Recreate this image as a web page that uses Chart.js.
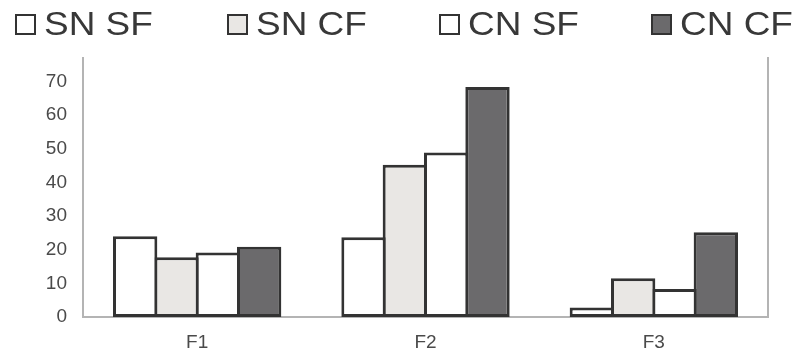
<!DOCTYPE html>
<html>
<head>
<meta charset="utf-8">
<script src="https://cdn.jsdelivr.net/npm/chart.js@4"></script>
<style>
    html, body { margin: 0; padding: 0; background: #fff; }
    #quadro { position: relative; width: 804px; height: 362px; }
    #legenda {
        position: absolute; left: 15px; top: 0; display: flex;
        font-family: "Liberation Sans", Arial, sans-serif; font-size: 33px; color: #383838;
    }
    .item { display: flex; align-items: center; width: 212px; height: 48px; }
    .caixa { width: 17px; height: 17px; border: 2.5px solid #333; margin-right: 8px; flex: none; }
    .texto { display: inline-block; transform: scaleX(1.12); transform-origin: left center; white-space: nowrap; }
</style>
</head>
<body>
<div id="quadro">
    <canvas id="grafico"></canvas>
    <div id="legenda"></div>
</div>
<script>
// Dados
const categorias = ['F1', 'F2', 'F3'];
const nomesSeries = ['SN SF', 'SN CF', 'CN SF', 'CN CF'];
const snSf = [24, 23.7, 2.8];
const snCf = [17.8, 45.3, 11.5];
const cnSf = [19.2, 48.9, 8.3];
const cnCf = [20.9, 68.4, 25.2];
const valoresY = [0, 10, 20, 30, 40, 50, 60, 70];

const coresSeries = ['#ffffff', '#e9e7e4', '#ffffff', '#6b6a6c'];
const corBorda = '#333333';
const corEixo = '#b4b4b4';

const dadosSeries = [snSf, snCf, cnSf, cnCf];

// Legenda em HTML
const legenda = document.getElementById('legenda');
nomesSeries.forEach((nome, i) => {
    const item = document.createElement('div');
    item.className = 'item';
    const caixa = document.createElement('span');
    caixa.className = 'caixa';
    caixa.style.background = coresSeries[i];
    const texto = document.createElement('span');
    texto.className = 'texto';
    texto.textContent = nome;
    item.appendChild(caixa);
    item.appendChild(texto);
    legenda.appendChild(item);
});

const ctx = document.getElementById('grafico');
new Chart(ctx, {
    type: 'bar',
    data: {
        labels: categorias,
        datasets: nomesSeries.map((nome, i) => ({
            label: nome,
            data: dadosSeries[i],
            backgroundColor: coresSeries[i],
            borderColor: corBorda,
            borderWidth: 3,
            borderSkipped: false,
            // barras vizinhas partilham a linha de contorno
            categoryPercentage: 0.724,
            barPercentage: 1.073
        }))
    },
    options: {
        responsive: true,
        maintainAspectRatio: false,
        animation: false,
        layout: { padding: { top: 58, right: 36, left: 0, bottom: 0 } },
        plugins: {
            legend: { display: false },
            tooltip: { enabled: false }
        },
        scales: {
            x: {
                offset: true,
                grid: { display: false, drawTicks: false },
                border: { display: true, color: corEixo, width: 2 },
                ticks: {
                    color: '#4a4a4a',
                    padding: 14,
                    font: { family: 'Liberation Sans', size: 19 }
                },
                afterFit: function(scale) { scale.height = 45; }
            },
            y: {
                min: 0,
                max: 77,
                grid: { display: false, drawTicks: false },
                border: { display: true, color: corEixo, width: 2 },
                ticks: {
                    color: '#4a4a4a',
                    padding: 16,
                    font: { family: 'Liberation Sans', size: 19 }
                },
                afterBuildTicks: function(scale) {
                    scale.ticks = valoresY.map(v => ({ value: v }));
                },
                afterFit: function(scale) { scale.width = 83; }
            },
            y2: {
                type: 'linear',
                position: 'right',
                grid: { display: false, drawTicks: false },
                border: { display: true, color: corEixo, width: 2 },
                ticks: { display: false },
                afterFit: function(scale) { scale.width = 0; }
            }
        }
    }
});
</script>
</body>
</html>
